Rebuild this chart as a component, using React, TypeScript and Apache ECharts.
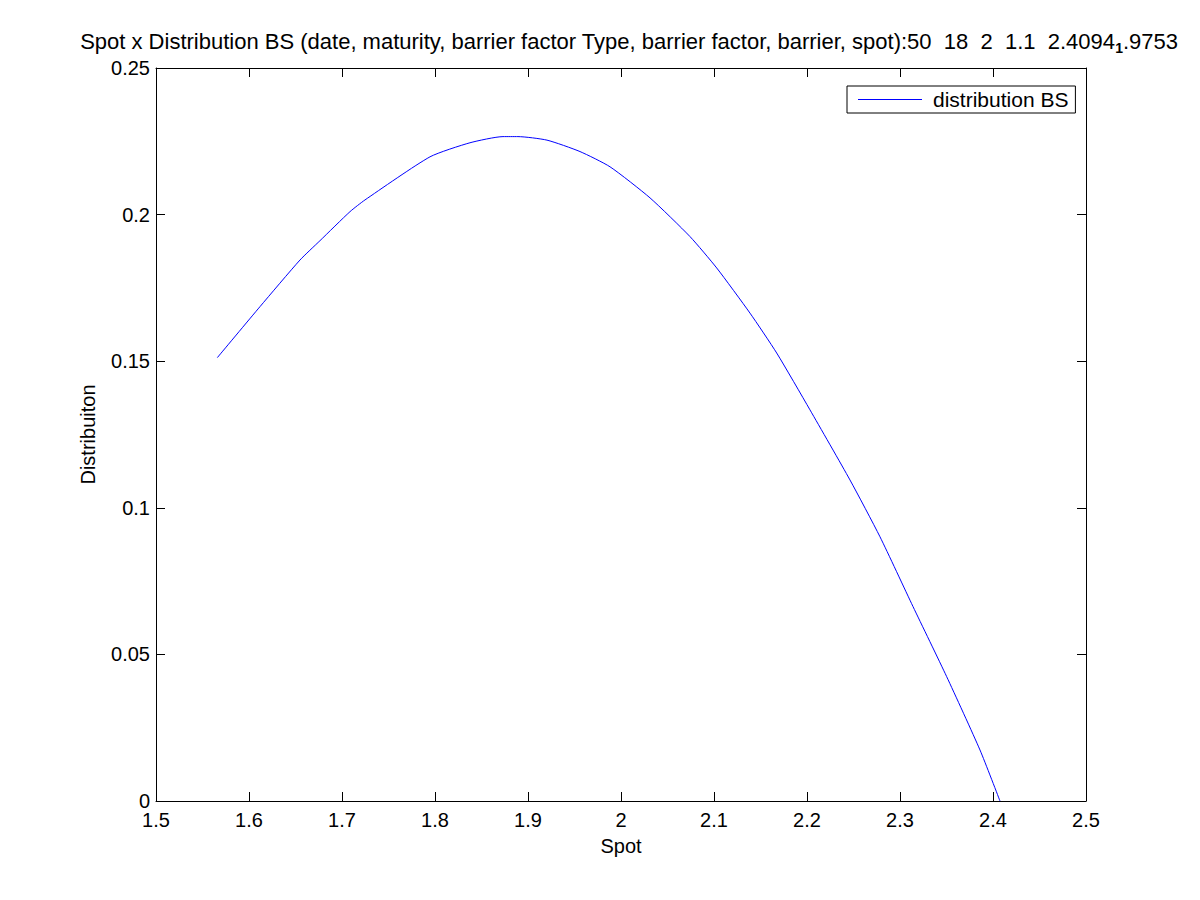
import React, { useEffect, useRef } from "react";
import * as echarts from "echarts";

const spotValues = [
  1.5659, 1.6118, 1.6548, 1.6763, 1.7086, 1.7247, 1.7946, 1.8376, 1.8731, 1.8892,
  1.9204, 1.9559, 1.9882, 2.0312, 2.0742, 2.1029, 2.1387, 2.1674, 2.2032, 2.2462,
  2.2785, 2.314, 2.3502, 2.386, 2.4075,
];
const distributionValues = [
  0.1512, 0.1686, 0.1845, 0.1911, 0.201, 0.205, 0.2197, 0.2245, 0.2266, 0.2266,
  0.2254, 0.2215, 0.2163, 0.2057, 0.1925, 0.1818, 0.1664, 0.1528, 0.1334, 0.1095,
  0.0901, 0.0663, 0.0424, 0.0174, 0.0,
];
const seriesName = "distribution BS";
const titleMain =
  "Spot x Distribution BS (date, maturity, barrier factor Type, barrier factor, barrier, spot):50  18  2  1.1  2.4094";
const titleSub = "1";
const titleTail = ".9753";
const xLabel = "Spot";
const yLabel = "Distribuiton";

const FONT = "Arial, 'Liberation Sans', sans-serif";

export default function App() {
  const ref = useRef<HTMLDivElement>(null);
  useEffect(() => {
    if (!ref.current) return;
    const chart = echarts.init(ref.current, null, { renderer: "svg" });
    const data = spotValues.map((x, i) => [x, distributionValues[i]]);
    const axisCommon = {
      axisLine: { show: true, onZero: false, lineStyle: { color: "#000", width: 1 } },
      axisTick: { show: true, inside: true, length: 9, lineStyle: { color: "#000" } },
      splitLine: { show: false },
    };
    chart.setOption({
      animation: false,
      backgroundColor: "#fff",
      title: {
        text: `{m|${titleMain}}{s|${titleSub}}{m|${titleTail}}`,
        left: 624,
        textAlign: "center",
        top: 22,
        textStyle: {
          rich: {
            m: { fontFamily: FONT, fontSize: 22, color: "#000", fontWeight: "normal" },
            s: { fontFamily: FONT, fontSize: 14, color: "#000", verticalAlign: "bottom", padding: [14, 0, 0, 0] },
          },
        },
      },
      legend: {
        left: 847,
        top: 86,
        orient: "horizontal",
        data: [{ name: seriesName, icon: "rect" }],
        itemWidth: 64,
        itemHeight: 1,
        itemGap: 0,
        padding: [3, 7, 3, 11],
        borderColor: "#000",
        borderWidth: 1,
        borderRadius: 0,
        backgroundColor: "#fff",
        textStyle: { fontFamily: FONT, fontSize: 21, color: "#000", padding: [0, 0, 0, 6] },
      },
      grid: { left: 156, right: 114, top: 68, bottom: 99, containLabel: false },
      xAxis: [
        {
          type: "value",
          min: 1.5,
          max: 2.5,
          interval: 0.1,
          name: xLabel,
          nameLocation: "middle",
          nameGap: 35,
          nameTextStyle: { fontFamily: FONT, fontSize: 20, color: "#000" },
          axisLabel: {
            fontFamily: FONT,
            fontSize: 20,
            color: "#000",
            margin: 9,
            formatter: (v: number) => String(Math.round(v * 10) / 10),
          },
          ...axisCommon,
        },
        {
          type: "value",
          position: "top",
          min: 1.5,
          max: 2.5,
          interval: 0.1,
          axisLabel: { show: false },
          ...axisCommon,
        },
      ],
      yAxis: [
        {
          type: "value",
          min: 0,
          max: 0.25,
          interval: 0.05,
          name: yLabel,
          nameLocation: "middle",
          nameGap: 58,
          nameRotate: 90,
          nameTextStyle: { fontFamily: FONT, fontSize: 20, color: "#000" },
          axisLabel: {
            fontFamily: FONT,
            fontSize: 20,
            color: "#000",
            margin: 6,
            formatter: (v: number) => String(Math.round(v * 100) / 100),
          },
          ...axisCommon,
        },
        {
          type: "value",
          position: "right",
          min: 0,
          max: 0.25,
          interval: 0.05,
          axisLabel: { show: false },
          ...axisCommon,
        },
      ],
      series: [
        {
          name: seriesName,
          type: "line",
          data,
          showSymbol: false,
          symbol: "none",
          smooth: 0.2,
          lineStyle: { color: "#0000ff", width: 1 },
          itemStyle: { color: "#0000ff" },
        },
      ],
    });
    return () => chart.dispose();
  }, []);
  return (
    <div
      ref={ref}
      style={{ position: "absolute", left: 0, top: 0, width: 1200, height: 900, background: "#fff" }}
    />
  );
}
